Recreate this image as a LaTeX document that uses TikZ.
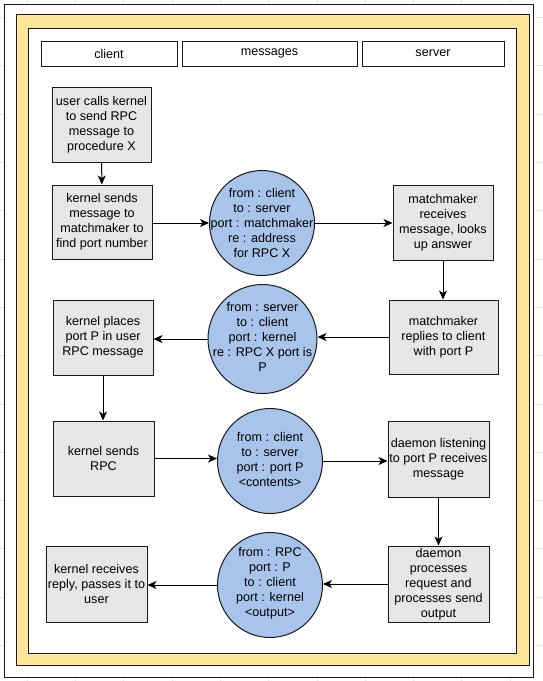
\documentclass[tikz,border=0pt]{standalone}
\usepackage{fontspec}
\setmainfont{Liberation Sans}
\usetikzlibrary{arrows.meta}
\definecolor{bandyellow}{HTML}{FFE599}
\definecolor{msgblue}{HTML}{A9C4EB}
\definecolor{stepgrey}{HTML}{E6E6E6}
\definecolor{gridgrey}{HTML}{E6E6E6}
\definecolor{edge}{HTML}{1A1A1A}
\tikzset{
  txt/.style={font=\fontsize{12.6}{15}\selectfont, align=center, inner sep=0pt},
  header/.style={txt, draw=edge, line width=1pt, fill=white, minimum height=25pt},
  stepbox/.style={txt, draw=edge, line width=1pt, fill=stepgrey},
  msg/.style={circle, draw=edge, line width=1pt, fill=msgblue, inner sep=0pt},
  flow/.style={draw=black, line width=1pt, -{Stealth[length=9pt,width=8pt,inset=2.5pt]}},
}
\begin{document}
\begin{tikzpicture}[x=1pt,y=-1pt]
\useasboundingbox (0,0) rectangle (543,681);
\fill[white] (0,0) rectangle (543,681);
% background grid
\foreach \gx in {0,...,11} \draw[gridgrey, line width=0.6pt] ({27+48.3*\gx},0) -- ({27+48.3*\gx},681);
\foreach \gy in {0,...,14} \draw[gridgrey, line width=0.6pt] (0,{17.4+48.3*\gy}) -- (543,{17.4+48.3*\gy});
% frames
\draw[edge, fill=white, line width=0.8pt] (4,4) rectangle (533,677);
\draw[edge, fill=bandyellow, line width=1pt] (16,14) rectangle (529,665);
\draw[edge, fill=white, line width=1pt] (28,28) rectangle (516,653);
% lane headers
\node[header, minimum width=136pt] (hclient) at (109,53.5) {client};
\node[header, minimum width=175pt] (hmsg) at (269.5,53.5) {messages};
\node[header, minimum width=142pt] (hserver) at (433,53.5) {server};
% client steps
\node[stepbox, minimum width=99pt, minimum height=75pt] (c1) at (101.5,124.5)
  {user calls kernel\\to send RPC\\message to\\procedure X};
\node[stepbox, minimum width=100pt, minimum height=74pt] (c2) at (102,222)
  {kernel sends\\message to\\matchmaker to\\find port number};
\node[stepbox, minimum width=100pt, minimum height=75pt] (c3) at (103,337.5)
  {kernel places\\port P in user\\RPC message};
\node[stepbox, minimum width=101pt, minimum height=75pt] (c4) at (103.5,458.5)
  {kernel sends\\RPC};
\node[stepbox, minimum width=101pt, minimum height=76pt] (c5) at (96.5,584)
  {kernel receives\\reply, passes it to\\user};
% server steps
\node[stepbox, minimum width=100pt, minimum height=75pt] (s1) at (443,222.5)
  {matchmaker\\receives\\message, looks\\up answer};
\node[stepbox, minimum width=109pt, minimum height=74pt] (s2) at (443.5,337)
  {matchmaker\\replies to client\\with port P};
\node[stepbox, minimum width=101pt, minimum height=76pt] (s3) at (438.5,459)
  {daemon listening\\to port P receives\\message};
\node[stepbox, minimum width=101pt, minimum height=76pt] (s4) at (438.5,584)
  {daemon\\processes\\request and\\processes send\\output};
% messages
\node[msg, minimum size=105pt] (m1) at (262,223) {};
\node[txt] at (m1) {from : client\\to : server\\port : matchmaker\\re : address\\for RPC X};
\node[msg, minimum size=109pt] (m2) at (262.5,339) {};
\node[txt] at (262.5,337) {from : server\\to : client\\port : kernel\\re : RPC X port is\\P};
\node[msg, minimum size=105pt] (m3) at (270,461) {};
\node[txt] at (270,459) {from : client\\to : server\\port : port P\\<contents>};
\node[msg, minimum size=105pt] (m4) at (270,585) {};
\node[txt] at (270,583) {from : RPC\\port : P\\to : client\\port : kernel\\<output>};
% flow
\draw[flow] (c1) -- (c2);
\draw[flow] (c2.east |- m1.west) -- (m1.west);
\draw[flow] (m1.east) -- (s1.west |- m1.east);
\draw[flow] (s1) -- (s1 |- s2.north);
\draw[flow] (s2.west) -- (m2.east |- s2.west);
\draw[flow] (m2.west) -- (c3.east |- m2.west);
\draw[flow] (c3) -- (c3 |- c4.north);
\draw[flow] (c4.east) -- (m3.west |- c4.east);
\draw[flow] (m3.east) -- (s3.west |- m3.east);
\draw[flow] (s3) -- (s4);
\draw[flow] (s4.west) -- (m4.east |- s4.west);
\draw[flow] (m4.west) -- (c5.east |- m4.west);
\end{tikzpicture}
\end{document}
